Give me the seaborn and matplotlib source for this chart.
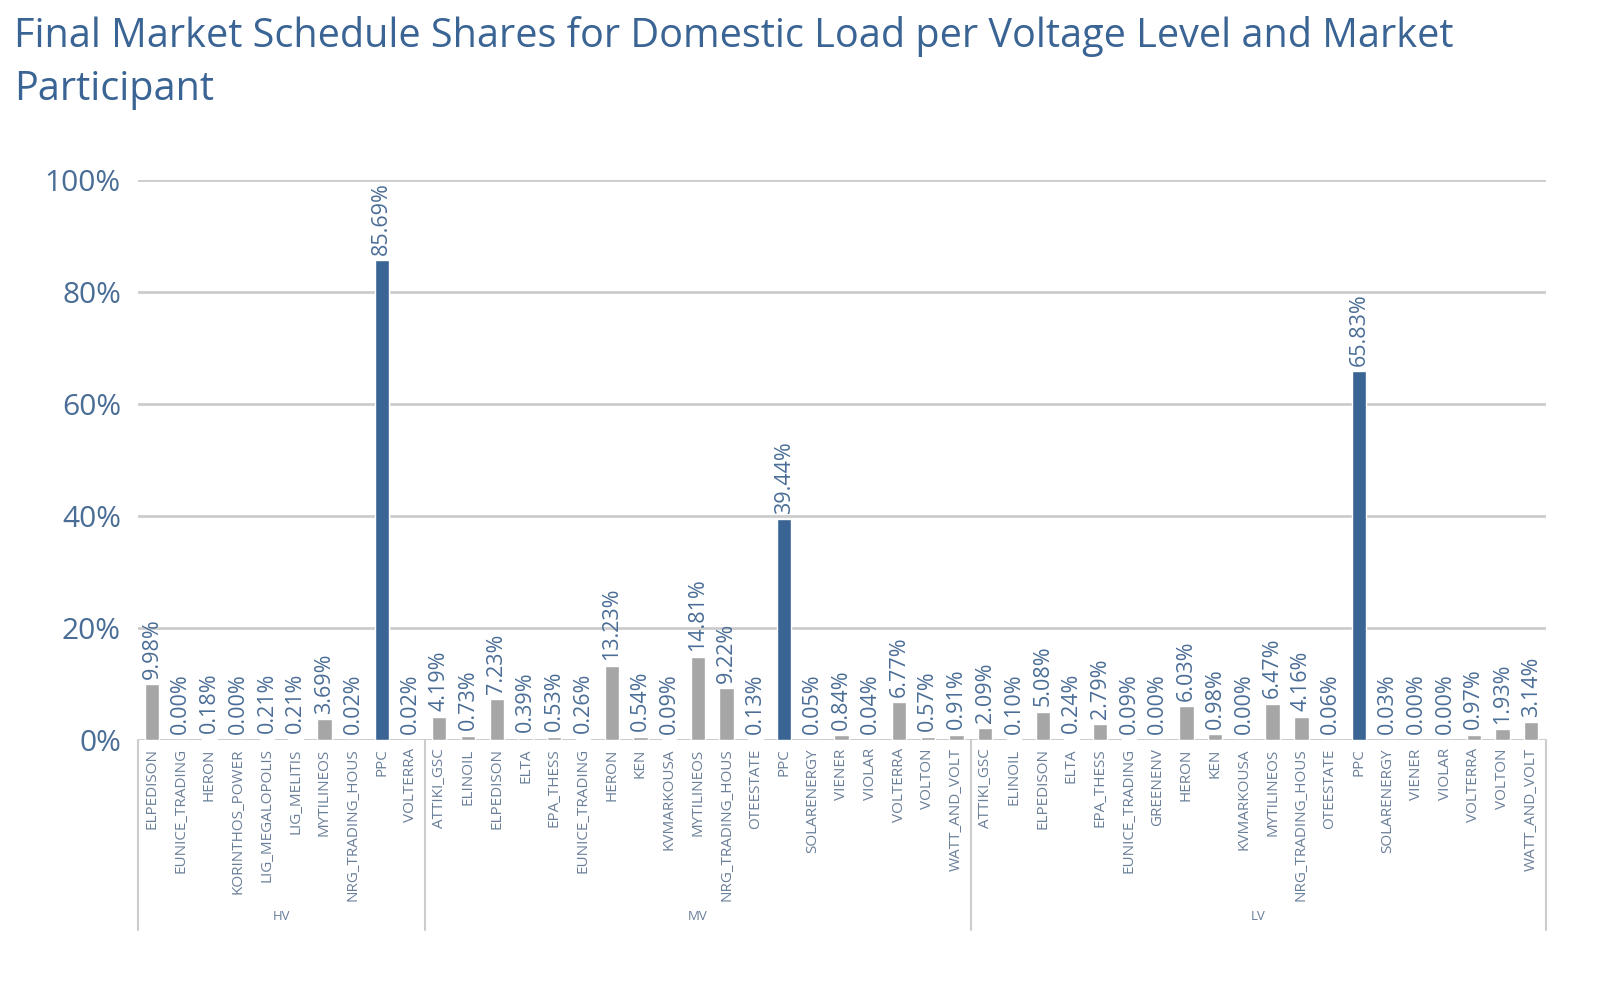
import pandas as pd
import matplotlib.pyplot as plt
import matplotlib.transforms as mtransforms
import seaborn as sns

# dados por nivel de tensao
hv_names = ['ELPEDISON', 'EUNICE_TRADING', 'HERON', 'KORINTHOS_POWER', 'LIG_MEGALOPOLIS',
            'LIG_MELITIS', 'MYTILINEOS', 'NRG_TRADING_HOUS', 'PPC', 'VOLTERRA']
hv_values = [9.98, 0.00, 0.18, 0.00, 0.21, 0.21, 3.69, 0.02, 85.69, 0.02]

mv_names = ['ATTIKI_GSC', 'ELINOIL', 'ELPEDISON', 'ELTA', 'EPA_THESS', 'EUNICE_TRADING',
            'HERON', 'KEN', 'KVMARKOUSA', 'MYTILINEOS', 'NRG_TRADING_HOUS', 'OTEESTATE',
            'PPC', 'SOLARENERGY', 'VIENER', 'VIOLAR', 'VOLTERRA', 'VOLTON', 'WATT_AND_VOLT']
mv_values = [4.19, 0.73, 7.23, 0.39, 0.53, 0.26, 13.23, 0.54, 0.09, 14.81, 9.22, 0.13,
             39.44, 0.05, 0.84, 0.04, 6.77, 0.57, 0.91]

lv_names = ['ATTIKI_GSC', 'ELINOIL', 'ELPEDISON', 'ELTA', 'EPA_THESS', 'EUNICE_TRADING',
            'GREENENV', 'HERON', 'KEN', 'KVMARKOUSA', 'MYTILINEOS', 'NRG_TRADING_HOUS',
            'OTEESTATE', 'PPC', 'SOLARENERGY', 'VIENER', 'VIOLAR', 'VOLTERRA', 'VOLTON',
            'WATT_AND_VOLT']
lv_values = [2.09, 0.10, 5.08, 0.24, 2.79, 0.09, 0.00, 6.03, 0.98, 0.00, 6.47, 4.16,
             0.06, 65.83, 0.03, 0.00, 0.00, 0.97, 1.93, 3.14]

levels = ['HV', 'MV', 'LV']
groups = [(hv_names, hv_values), (mv_names, mv_values), (lv_names, lv_values)]

rows = []
for lvl, (names, vals) in zip(levels, groups):
    for n, v in zip(names, vals):
        rows.append({'nivel': lvl, 'participante': n, 'share': v,
                     'chave': lvl + '|' + n, 'tipo': 'PPC' if n == 'PPC' else 'outro'})
dados = pd.DataFrame(rows)

azul = '#3a6494'
cinza = '#a6a6a6'
texto = '#4a6d96'

sns.set_style('white')
plt.rcParams['font.family'] = ['Open Sans', 'DejaVu Sans']

fig = plt.figure(figsize=(16, 9.84), dpi=100)
ax = fig.add_axes([0.086, 0.248, 0.880, 0.569])

sns.barplot(
    data=dados, x='chave', y='share', hue='tipo',
    order=list(dados['chave']),
    palette={'PPC': azul, 'outro': cinza},
    dodge=False, width=0.5, saturation=1, legend=False, ax=ax
)

# rotulos de valor
for i, v in enumerate(dados['share']):
    ax.annotate(f'{v:.2f}%', (i, v), xytext=(0, 4), textcoords='offset points',
                ha='center', va='bottom', rotation=90, fontsize=15.5,
                color=texto, annotation_clip=False)

ax.set_xlim(-0.5, len(dados) - 0.5)
ax.set_ylim(0, 100)
ax.set_yticks([0, 20, 40, 60, 80, 100])
ax.set_yticklabels([f'{t}%' for t in [0, 20, 40, 60, 80, 100]], fontsize=21.5, color=texto)
ax.set_xticks(range(len(dados)))
ax.set_xticklabels(dados['participante'], rotation=90, fontsize=11, color='#6a7f99')
ax.tick_params(axis='x', length=0, pad=6)
ax.tick_params(axis='y', length=0, pad=12)
ax.set_xlabel('')
ax.set_ylabel('')
ax.grid(axis='y', color='#cccccc', linewidth=2)
ax.set_axisbelow(True)
for s in ax.spines.values():
    s.set_visible(False)
ax.axhline(0, color='#cccccc', linewidth=2, zorder=0.5)

# separadores de grupo
trans = mtransforms.blended_transform_factory(ax.transData, ax.transAxes)
limites = [-0.5]
inicio = -0.5
for names, _ in groups:
    inicio += len(names)
    limites.append(inicio)
for b in limites:
    ax.plot([b, b], [0, -0.34], transform=trans, color='#cccccc', linewidth=1.5, clip_on=False)
for lvl, a, b in zip(levels, limites[:-1], limites[1:]):
    ax.text((a + b) / 2, -0.315, lvl, transform=trans, ha='center', va='center',
            fontsize=9.5, color='#6a7f99')

fig.text(0.009, 0.984, 'Final Market Schedule Shares for Domestic Load per Voltage Level and Market\nParticipant',
         ha='left', va='top', fontsize=28.5, color=azul, linespacing=1.42)

plt.savefig('out.png', dpi=100)
